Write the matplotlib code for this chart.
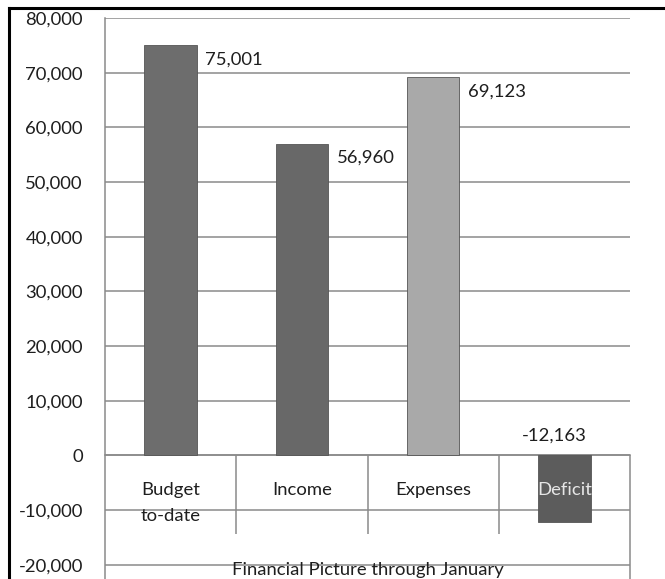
import matplotlib
matplotlib.use('Agg')
import matplotlib.pyplot as plt
from matplotlib.lines import Line2D

categories = ['Budget\nto-date', 'Income', 'Expenses', 'Deficit']
values = [75001, 56960, 69123, -12163]
value_labels = ['75,001', '56,960', '69,123', '-12,163']
y_ticks = [-20000, -10000, 0, 10000, 20000, 30000, 40000, 50000, 60000, 70000, 80000]
bar_colors = ['#6d6d6d', '#686868', '#a9a9a9', '#5c5c5c']
axis_title = 'Financial Picture through January'

plt.rcParams['font.family'] = ['Lato', 'DejaVu Sans']
GRID = '#8a8a8a'
TXT = '#1e1e1e'
FS = 13.3

fig = plt.figure(figsize=(6.65, 5.79), dpi=100)
ax = fig.add_axes([105 / 665, 0.0, 525 / 665, 1 - 18 / 579])

x = list(range(len(categories)))
ax.bar(x, values, width=0.4, color=bar_colors, edgecolor='#555555',
       linewidth=0.6, zorder=3)

ax.set_xlim(-0.5, 3.5)
ax.set_ylim(-22600, 80000)
ax.set_yticks(y_ticks)
ax.set_yticklabels([f'{v:,}' for v in y_ticks], fontsize=FS, color=TXT)
ax.tick_params(axis='y', length=0, pad=16)
ax.yaxis.grid(True, color=GRID, linewidth=1.1, zorder=0)

for s in ['top', 'right']:
    ax.spines[s].set_visible(False)
ax.spines['left'].set_color(GRID)
ax.spines['left'].set_linewidth(1.1)

# category labels sit below the zero line
ax.spines['bottom'].set_position(('data', 0))
ax.spines['bottom'].set_color(GRID)
ax.spines['bottom'].set_linewidth(1.1)
ax.set_xticks(x)
ax.set_xticklabels(categories, fontsize=FS, color=TXT, linespacing=1.75)
ax.tick_params(axis='x', length=0, pad=19)
ax.xaxis.set_zorder(4)
ax.get_xticklabels()[3].set_color('#e6e6e6')

# category dividers and right edge
ax.vlines([0.5, 1.5, 2.5], -14300, 0, color=GRID, linewidth=1.1, zorder=2)
ax.vlines([3.5], -22600, 0, color=GRID, linewidth=1.1, zorder=2, clip_on=False)

# data labels
for i, (v, lab) in enumerate(zip(values, value_labels)):
    if v >= 0:
        ax.annotate(lab, (i + 0.2, v), xytext=(6, -10), textcoords='offset points',
                    ha='left', va='center', fontsize=FS, color=TXT)
    else:
        ax.annotate(lab, (i, 0), xytext=(-7, 14), textcoords='offset points',
                    ha='center', va='center', fontsize=FS, color=TXT)

ax.text(1.5, -20900, axis_title, ha='center', va='center', fontsize=FS,
        color=TXT, zorder=4)

# outer black frame (top and left)
fig.add_artist(Line2D([9 / 665, 1.0], [1 - 8 / 579, 1 - 8 / 579],
                      transform=fig.transFigure, color='black', linewidth=2.2))
fig.add_artist(Line2D([9 / 665, 9 / 665], [0.0, 1 - 8 / 579],
                      transform=fig.transFigure, color='black', linewidth=2.2))

plt.savefig('out.png', dpi=100)
plt.close()
